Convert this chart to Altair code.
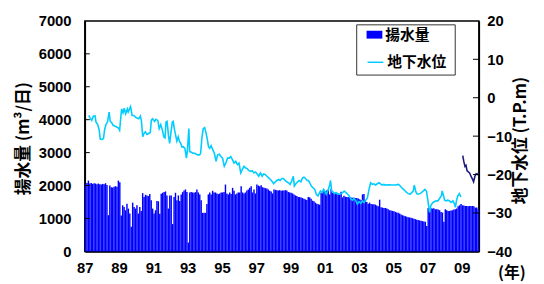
import altair as alt
import pandas as pd

# ---- data ----
start_year = 1987
pumping = [
    2050, 2080, 2150, 2060, 2080, 2050, 2070, 2060, 2040, 2060, 2040, 2030,  # 1987
    2050, 2040, 2070, 2020, 1100, 2000, 1950, 1940, 1960, 1980, 1960, 2150,  # 1988
    2100, 1090, 1400, 1350, 1250, 1450, 1300, 1150, 750, 1480, 1350, 1300,   # 1989
    1400, 1150, 1350, 1230, 1770, 1650, 1720, 1700, 1680, 1740, 1550, 1300,  # 1990
    1150, 1250, 1530, 1520, 1140, 1750, 1780, 1800, 1820, 1700, 1300, 1700,  # 1991
    1700, 830, 1650, 1780, 1550, 1700, 1530, 1730, 1800, 1850, 1880, 1800,   # 1992
    270, 1790, 1800, 1790, 1780, 1800, 1880, 1790, 1730, 1550, 1170, 1170,   # 1993
    1170, 1440, 1730, 1790, 1730, 1840, 1790, 1790, 1760, 1740, 1760, 1790,  # 1994
    1790, 1800, 2030, 1760, 1730, 1790, 1740, 1930, 1840, 1730, 1760, 1790,  # 1995
    1790, 1980, 1790, 1760, 1790, 1850, 1880, 1930, 1980, 1790, 1880, 1760,  # 1996
    2030, 2000, 1980, 2010, 1950, 1930, 1920, 1910, 1880, 1840, 1820, 1760,  # 1997
    1880, 1870, 1860, 1850, 1860, 1840, 1850, 1850, 1860, 1850, 1800, 1790,  # 1998
    1780, 1760, 1730, 1700, 1680, 1650, 1650, 1640, 1620, 1600, 1580, 1560,  # 1999
    1650, 1640, 1600, 1540, 1520, 1480, 1450, 1430, 1420, 1780, 1830, 1830,  # 2000
    1830, 1850, 1880, 1730, 1900, 1780, 1780, 1770, 1780, 1760, 1730, 1810,  # 2001
    1640, 1690, 1660, 1650, 1650, 1640, 1640, 1630, 1630, 1620, 1620, 1610,  # 2002
    1580, 1560, 1730, 1740, 1560, 1500, 1450, 1480, 1440, 1430, 1430, 1420,  # 2003
    1390, 1370, 1570, 1340, 1330, 1320, 1320, 1300, 1280, 1250, 1240, 1230,  # 2004
    1220, 1200, 1180, 1170, 1150, 1120, 1100, 1080, 1070, 1050, 1040, 1030,  # 2005
    1020, 1010, 990, 980, 960, 950, 940, 930, 920, 910, 900, 770,            # 2006
    1320, 1280, 1310, 1300, 1310, 1280, 1280, 1270, 1250, 1200, 1180, 900,   # 2007
    1280, 1250, 1230, 1230, 1240, 1250, 1270, 1280, 1300, 1370, 1400, 1440,  # 2008
    1400, 1390, 1380, 1380, 1370, 1380, 1380, 1380, 1370, 1330, 1330, 1280,  # 2009
]

gw_year = [
    1987.23, 1987.31, 1987.40, 1987.50, 1987.60, 1987.65, 1987.75, 1987.84, 1987.90, 1988.00,
    1988.09, 1988.15, 1988.23, 1988.32, 1988.42, 1988.48, 1988.57, 1988.65, 1988.77, 1988.86,
    1988.96, 1989.03, 1989.11, 1989.15, 1989.23, 1989.30, 1989.38, 1989.48, 1989.53, 1989.61,
    1989.67, 1989.76, 1989.86, 1989.96, 1990.05, 1990.15, 1990.24, 1990.30, 1990.38, 1990.45,
    1990.53, 1990.63, 1990.72, 1990.82, 1990.88, 1990.95, 1991.07, 1991.15, 1991.26, 1991.34,
    1991.43, 1991.53, 1991.61, 1991.68, 1991.74, 1991.80, 1991.88, 1991.95, 1992.03, 1992.11,
    1992.16, 1992.22, 1992.30, 1992.37, 1992.45, 1992.53, 1992.60, 1992.66, 1992.74, 1992.84,
    1992.93, 1992.99, 1993.07, 1993.12, 1993.22, 1993.32, 1993.41, 1993.51, 1993.60, 1993.70,
    1993.76, 1993.83, 1993.91, 1993.99, 1994.06, 1994.14, 1994.22, 1994.29, 1994.37, 1994.47,
    1994.56, 1994.66, 1994.75, 1994.85, 1994.95, 1995.04, 1995.14, 1995.23, 1995.33, 1995.43,
    1995.52, 1995.62, 1995.71, 1995.81, 1995.91, 1996.00, 1996.10, 1996.19, 1996.29, 1996.39,
    1996.48, 1996.58, 1996.67, 1996.77, 1996.87, 1996.96, 1997.06, 1997.15, 1997.25, 1997.35,
    1997.44, 1997.54, 1997.63, 1997.73, 1997.83, 1997.92, 1998.02, 1998.12, 1998.21, 1998.31,
    1998.40, 1998.50, 1998.59, 1998.69, 1998.79, 1998.88, 1998.98, 1999.07, 1999.17, 1999.23,
    1999.32, 1999.42, 1999.51, 1999.61, 1999.71, 1999.79, 1999.88, 1999.98, 2000.05, 2000.13,
    2000.22, 2000.32, 2000.42, 2000.51, 2000.61, 2000.70, 2000.76, 2000.86, 2000.93, 2001.01,
    2001.09, 2001.18, 2001.28, 2001.34, 2001.41, 2001.47, 2001.57, 2001.66, 2001.76, 2001.86,
    2001.95, 2002.05, 2002.14, 2002.24, 2002.34, 2002.43, 2002.53, 2002.62, 2002.72, 2002.82,
    2002.91, 2003.01, 2003.11, 2003.20, 2003.30, 2003.39, 2003.49, 2003.59, 2003.68, 2003.78,
    2003.88, 2003.97, 2004.07, 2004.17, 2004.26, 2004.35, 2004.45, 2004.54, 2004.73, 2004.92,
    2005.12, 2005.31, 2005.41, 2005.50, 2005.60, 2005.70, 2005.79, 2005.89, 2005.98, 2006.08,
    2006.17, 2006.23, 2006.31, 2006.37, 2006.46, 2006.56, 2006.65, 2006.75, 2006.85, 2006.94,
    2007.00, 2007.08, 2007.13, 2007.19, 2007.27, 2007.33, 2007.42, 2007.52, 2007.61, 2007.71,
    2007.81, 2007.86, 2007.94, 2008.00, 2008.10, 2008.19, 2008.29, 2008.38, 2008.48, 2008.58,
    2008.63, 2008.69, 2008.77, 2008.86, 2008.92, 2008.96,
]
gw_level = [
    -4.62, -5.30, -5.90, -4.79, -4.79, -6.33, -7.01, -8.46, -10.77, -10.86,
    -10.60, -8.46, -7.01, -6.33, -3.76, -6.16, -6.50, -7.18, -7.44, -7.61,
    -7.87, -8.46, -4.62, -2.91, -3.93, -2.74, -4.19, -2.91, -3.76, -2.91,
    -2.31, -4.62, -4.62, -5.05, -5.30, -5.47, -4.79, -5.90, -10.17, -9.32,
    -8.89, -9.57, -9.32, -9.06, -5.90, -5.47, -6.16, -5.64, -5.90, -8.04,
    -7.01, -8.46, -10.17, -10.43, -6.33, -6.16, -9.75, -11.88, -8.89, -6.33,
    -6.16, -8.04, -9.75, -11.28, -10.17, -11.46, -11.88, -12.80, -12.74, -13.17,
    -15.73, -13.59, -8.04, -14.02, -14.19, -14.45, -14.45, -14.70, -14.87, -14.87,
    -14.45, -10.60, -8.04, -7.78, -8.89, -10.60, -12.74, -13.17, -12.48, -13.59,
    -14.45, -16.58, -14.87, -14.70, -15.30, -15.73, -17.87, -17.01, -15.73, -15.73,
    -15.30, -16.16, -17.01, -16.58, -17.44, -17.01, -19.57, -18.72, -17.87, -18.29,
    -18.46, -18.98, -19.15, -18.98, -19.57, -19.32, -19.83, -20.43, -19.57, -20.43,
    -19.83, -20.00, -20.43, -20.86, -21.28, -21.71, -22.40, -21.88, -21.54, -21.28,
    -21.54, -21.03, -21.03, -21.54, -21.88, -22.14, -22.57, -21.71, -20.43, -22.99,
    -22.40, -21.88, -21.54, -21.88, -20.86, -20.69, -21.03, -21.54, -21.54, -22.14,
    -22.99, -23.42, -23.85, -25.13, -25.56, -24.70, -24.28, -24.70, -23.85, -24.28,
    -25.13, -24.28, -22.99, -21.54, -24.28, -24.45, -24.96, -24.70, -25.13, -25.13,
    -24.96, -24.70, -24.28, -24.70, -25.13, -25.56, -26.41, -26.67, -26.24, -26.84,
    -27.70, -27.01, -27.52, -26.84, -27.27, -26.67, -26.16, -23.85, -22.14, -22.57,
    -22.40, -22.74, -22.40, -22.14, -22.40, -22.74, -22.57, -22.74, -22.65, -22.74,
    -22.74, -22.57, -22.99, -23.42, -23.85, -24.28, -24.70, -24.96, -25.13, -24.70,
    -24.28, -22.74, -24.28, -24.96, -25.13, -24.96, -24.70, -24.28, -23.85, -24.28,
    -25.99, -28.55, -29.83, -28.12, -27.52, -27.27, -27.01, -26.84, -26.84, -26.16,
    -25.56, -24.28, -25.56, -26.67, -26.84, -26.67, -26.84, -27.27, -26.84, -27.70,
    -28.55, -26.84, -25.56, -24.96, -25.56, -25.82,
]

gw2_year = [2009.06, 2009.12, 2009.19, 2009.25, 2009.31, 2009.38, 2009.46,
            2009.54, 2009.61, 2009.69, 2009.77, 2009.84, 2009.92, 2009.98]
gw2_level = [-15.05, -16.58, -17.87, -17.61, -18.98, -19.32, -19.57,
             -20.43, -21.03, -21.88, -20.43, -19.83, -20.00, -19.57]

x_ticks = [1987, 1989, 1991, 1993, 1995, 1997, 1999, 2001, 2003, 2005, 2007, 2009]
left_ticks = [0, 1000, 2000, 3000, 4000, 5000, 6000, 7000]
right_ticks = [-40, -30, -20, -10, 0, 10, 20]

series_names = ["揚水量", "地下水位"]

# ---- frames ----
df_bar = pd.DataFrame({
    "t": [start_year + i / 12 for i in range(len(pumping))],
    "t2": [start_year + (i + 1) / 12 for i in range(len(pumping))],
    "v": pumping,
    "b": 0,
    "s": series_names[0],
})
df_gw = pd.DataFrame({"t": gw_year, "v": gw_level, "s": series_names[1]})
df_gw2 = pd.DataFrame({"t": gw2_year, "v": gw2_level})
df_lt = pd.DataFrame({"v": left_ticks[1:-1]})
df_rt = pd.DataFrame({"v": right_ticks[1:-1]})

NUM_FONT = "Liberation Sans"
JP_FONT = "Noto Sans CJK JP"

xs = alt.Scale(domain=[1987, 2010], nice=False, zero=False)
ls = alt.Scale(domain=[0, 7000], nice=False)
rs = alt.Scale(domain=[-40, 20], nice=False, zero=False)

x_axis = alt.Axis(values=x_ticks, format="d", labelExpr="substring(datum.label, 2, 4)",
                  labelOverlap=False, labelBound=False, labelFlush=False,
                  tickSize=0, labelPadding=9, grid=False, domainColor="black", domainWidth=1.5,
                  labelFont=NUM_FONT, labelFontSize=15, labelFontWeight="bold", labelColor="black",
                  title="(年)", titleFont=JP_FONT, titleFontSize=16, titleFontWeight="bold",
                  titleX=433, titleY=22, titleAlign="center", titleBaseline="middle", titleColor="black")

left_axis = alt.Axis(orient="left", values=left_ticks, format="d", tickSize=0, labelPadding=14,
                     labelOverlap=False,
                     grid=False, domainColor="black", domainWidth=1.5,
                     labelFont=NUM_FONT, labelFontSize=15, labelFontWeight="bold", labelColor="black",
                     title="揚水量 (m³/日)", titleFont=JP_FONT, titleFontSize=17, titleFontWeight="bold",
                     titleAngle=270, titleX=-62, titleY=119, titleAlign="center",
                     titleBaseline="middle", titleColor="black")

right_axis = alt.Axis(orient="right", values=right_ticks, format="d", tickSize=0, labelPadding=8,
                      labelOverlap=False,
                      grid=False, domainColor="black", domainWidth=1.5,
                      labelFont=NUM_FONT, labelFontSize=15, labelFontWeight="bold", labelColor="black",
                      title="地下水位 (T.P.m)", titleFont=JP_FONT, titleFontSize=17, titleFontWeight="bold",
                      titleAngle=270, titleX=42, titleY=121, titleAlign="center",
                      titleBaseline="middle", titleColor="black")

legend_common = dict(orient="none", title=None, padding=0, labelFont=JP_FONT, labelFontSize=15,
                     labelFontWeight="bold", labelColor="black", labelOffset=3, symbolSize=256)

bars = alt.Chart(df_bar).mark_bar(strokeWidth=0).encode(
    x=alt.X("t:Q", scale=xs, axis=x_axis),
    x2="t2:Q",
    y=alt.Y("v:Q", scale=ls, axis=left_axis),
    y2="b:Q",
    fill=alt.Fill("s:N", scale=alt.Scale(domain=[series_names[0]], range=["#0000ff"]),
                  legend=alt.Legend(legendX=286, legendY=6, symbolType="M-1,-0.5H1V0.5H-1Z",
                                    symbolStrokeWidth=0, **legend_common)),
)

gw_line = alt.Chart(df_gw).mark_line(strokeWidth=1.6).encode(
    x=alt.X("t:Q", scale=xs, axis=x_axis),
    y=alt.Y("v:Q", scale=rs, axis=right_axis),
    stroke=alt.Stroke("s:N", scale=alt.Scale(domain=[series_names[1]], range=["#00ccff"]),
                      legend=alt.Legend(legendX=286, legendY=33, symbolType="stroke",
                                        symbolStrokeWidth=1.5, **legend_common)),
)

gw2_line = alt.Chart(df_gw2).mark_line(strokeWidth=1.6, color="#1a1a80").encode(
    x=alt.X("t:Q", scale=xs, axis=x_axis),
    y=alt.Y("v:Q", scale=rs, axis=None),
)

lticks = alt.Chart(df_lt).mark_rule(color="black", strokeWidth=1).encode(
    x=alt.value(0), x2=alt.value(5),
    y=alt.Y("v:Q", scale=ls, axis=None),
)
rticks = alt.Chart(df_rt).mark_rule(color="black", strokeWidth=1).encode(
    x=alt.value(394), x2=alt.value(400),
    y=alt.Y("v:Q", scale=rs, axis=None),
)

legend_box = alt.Chart(pd.DataFrame({"a": [0]})).mark_rect(
    fill="white", stroke="#333333", strokeWidth=1
).encode(x=alt.value(276), x2=alt.value(376), y=alt.value(4), y2=alt.value(55))

chart = alt.layer(bars, lticks, legend_box, gw_line, gw2_line, rticks).resolve_scale(
    y="independent", fill="independent", stroke="independent"
).properties(
    width=400, height=234,
    autosize=alt.AutoSizeParams(type="none"),
    padding={"left": 78, "top": 11, "right": 58, "bottom": 30},
).configure_view(stroke="black", strokeWidth=1.5)

chart.save("out.html", embed_options={"renderer": "svg", "actions": False})
